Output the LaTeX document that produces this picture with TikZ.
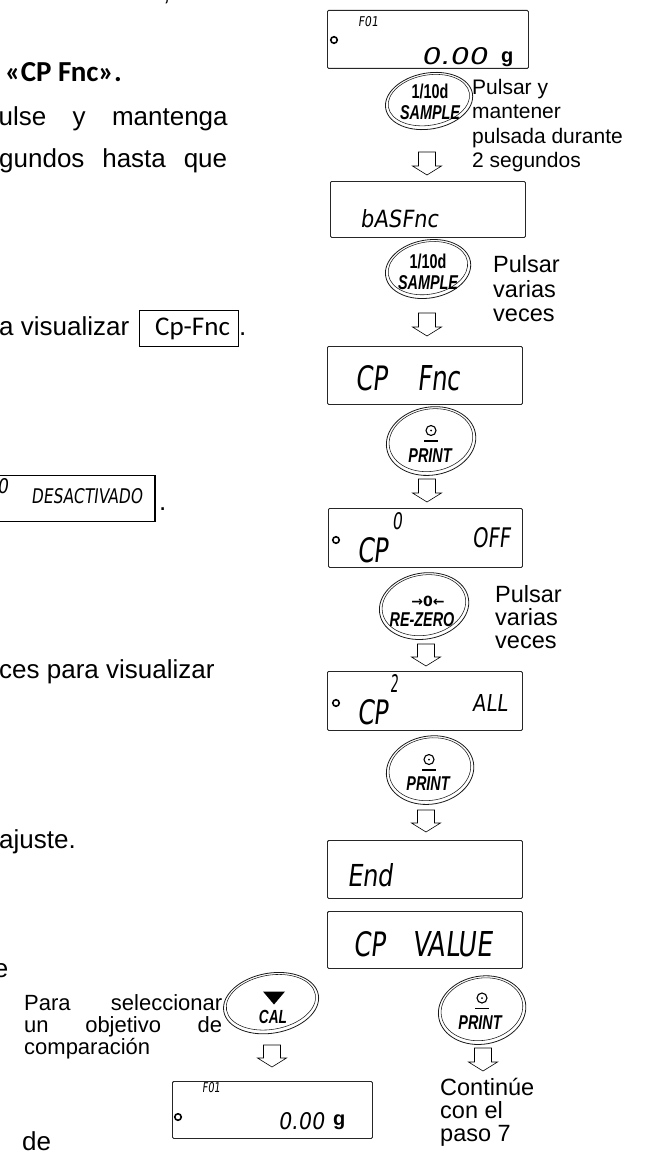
\documentclass[tikz,border=0pt]{standalone}
\usepackage{fontspec}
\usepackage{graphicx}
\setmainfont{Liberation Sans}
\newfontfamily\calib{Carlito}
\newfontfamily\lcdfont[FakeSlant=0.16]{DejaVu Sans}
\newfontfamily\btnfont[FakeStretch=0.72]{Liberation Sans}
\newfontfamily\symfont{DejaVu Sans}
\usetikzlibrary{calc}
\tikzset{
  body/.style={inner sep=0, anchor=base west, font=\fontsize{26}{30}\selectfont},
  lab/.style={inner sep=0, anchor=base west, font=\fontsize{23.5}{26}\selectfont},
  labp/.style={inner sep=0, anchor=base west, font=\fontsize{22}{24}\selectfont},
  labs/.style={inner sep=0, anchor=base west, font=\fontsize{21}{24}\selectfont},
  disp/.style={draw=black!85, line width=0.9pt, rounded corners=1.2pt, inner sep=0, anchor=north west},
  lcd/.style={inner sep=0, anchor=south west, font=\lcdfont},
  ind/.style={circle, draw, line width=1.6pt, minimum size=6.5pt, inner sep=0},
  gram/.style={inner sep=0, anchor=base west, font=\fontsize{20}{20}\selectfont\bfseries},
  btn/.style={inner sep=0, align=center, font=\btnfont\fontsize{20}{21}\selectfont\bfseries},
  ring/.style={draw=black!90, line width=0.8pt},
  ringin/.style={draw=black!90, line width=0.55pt},
  hollow/.style={draw, line width=0.6pt, fill=white, line join=miter,
    to path={let \p1=(\tikztostart), \p2=(\tikztotarget) in
      (\x1-8.5pt,\y1) -- (\x1-8.5pt,\y2+9pt) -- (\x1-14.5pt,\y2+9pt) -- (\x1,\y2)
      -- (\x1+14.5pt,\y2+9pt) -- (\x1+8.5pt,\y2+9pt) -- (\x1+8.5pt,\y1) -- cycle}},
}
\newcommand\mkring[3]{%
  \draw[ring, rotate around={10:(#1)}] (#1) ellipse [x radius=#2pt, y radius=#3pt];
  \draw[ringin, rotate around={10:(#1)}] ([yshift=0.9pt]#1) ellipse [x radius=#2pt-2.9pt, y radius=#3pt-2.9pt];}
\newcommand\mkprintsym[1]{%
  \draw[line width=1.1pt] (#1) circle [radius=5pt];
  \fill (#1) circle [radius=1pt];
  \draw[line width=1.4pt] ([xshift=-7pt,yshift=-10.5pt]#1) -- ([xshift=7pt,yshift=-10.5pt]#1);}
\begin{document}
\begin{tikzpicture}[x=1pt,y=-1pt]
\useasboundingbox (0,0) rectangle (646,1153);
\fill[white] (0,0) rectangle (646,1153);

% ---------- left text ----------
\node[body] (t0) at (163,1) {,};
\node[inner sep=0, anchor=base west, font=\calib\fontsize{29}{30}\selectfont\bfseries] (t1) at (5,82) {«CP Fnc».};
\node[body] (t2) at (-1.5,125) {\makebox[229pt][l]{ulse\hfill y\hfill mantenga}};
\node[body] (t3) at (-1,167) {\makebox[228pt][l]{gundos\hfill hasta\hfill que}};
\node[body] (t4) at (-1,335) {a visualizar};
\node[draw, line width=1.1pt, inner sep=0, anchor=north west, minimum width=99pt, minimum height=36pt,
      font=\calib\fontsize{27}{30}\selectfont] (cpf) at (139,310) {\hspace{7pt}Cp-Fnc};
\node[body] (t5) at (239,335) {.};
\node[draw, line width=1.1pt, inner sep=0, anchor=north east, minimum width=162pt, minimum height=46pt] (desbox) at (155.5,475) {};
\node[lcd] (des0) at (-3,494) {\resizebox{11pt}{15pt}{0}};
\node[lcd] (destxt) at (31,504) {\resizebox{111pt}{15pt}{DESACTIVADO}};
\node[body] (t6) at (159,510) {.};
\node[body] (t7) at (-1,678) {ces para visualizar};
\node[body] (t8) at (-1,848) {ajuste.};
\node[body, anchor=base east] (t9) at (8.5,977) {e};
\node[labp] (t10) at (24,1010) {\makebox[198pt][l]{Para\hfill seleccionar}};
\node[labp] (t11) at (24,1032) {\makebox[198pt][l]{un\hfill objetivo\hfill de}};
\node[labp] (t12) at (24,1054) {comparación};
\node[body] (t13) at (22,1150) {de};

% ---------- right labels ----------
\node[labs] (l1a) at (472,95) {Pulsar y};
\node[labs] (l1b) at (472,118) {mantener};
\node[labs] (l1c) at (472,143) {pulsada durante};
\node[labs] (l1d) at (472,167) {2 segundos};
\node[lab] (l2a) at (493,272) {Pulsar};
\node[lab] (l2b) at (493,297) {varias};
\node[lab] (l2c) at (493,321) {veces};
\node[lab] (l3a) at (495,602) {Pulsar};
\node[lab] (l3b) at (495,625) {varias};
\node[lab] (l3c) at (495,648) {veces};
\node[lab] (l4a) at (440,1095) {Continúe};
\node[lab] (l4b) at (440,1118) {con el};
\node[lab] (l4c) at (440,1141) {paso 7};

% ---------- displays ----------
\node[disp, minimum width=201pt, minimum height=58pt] (d1) at (327,10) {};
\node[ind] (d1i) at (334,40) {};
\node[lcd] (d1f) at (358,27) {\resizebox{20pt}{10pt}{F01}};
\node[lcd] (d1v) at (421,65) {\resizebox{66pt}{17pt}{0.00}};
\node[gram] (d1g) at (501,63) {g};

\node[disp, minimum width=195pt, minimum height=56pt] (d2) at (330,181) {};
\node[lcd] (d2t) at (360,228) {\resizebox{78pt}{18pt}{bASFnc}};

\node[disp, minimum width=195pt, minimum height=58pt] (d3) at (327,346) {};
\node[lcd] (d3a) at (355,391) {\resizebox{32pt}{25pt}{CP}};
\node[lcd] (d3b) at (417,391) {\resizebox{43pt}{25pt}{Fnc}};

\node[disp, minimum width=194pt, minimum height=59pt] (d4) at (328,508) {};
\node[ind] (d4i) at (336,540) {};
\node[lcd] (d4a) at (357,563) {\resizebox{31pt}{25pt}{CP}};
\node[lcd] (d4s) at (392,530) {\resizebox{10pt}{17pt}{0}};
\node[lcd] (d4b) at (472,548) {\resizebox{38pt}{20pt}{OFF}};

\node[disp, minimum width=195pt, minimum height=59pt] (d5) at (327,671) {};
\node[ind] (d5i) at (336,703) {};
\node[lcd] (d5a) at (357,725) {\resizebox{31pt}{25pt}{CP}};
\node[lcd] (d5s) at (390,693) {\resizebox{8pt}{18pt}{2}};
\node[lcd] (d5b) at (472,712) {\resizebox{35pt}{17pt}{ALL}};

\node[disp, minimum width=195pt, minimum height=58pt] (d6) at (327,840) {};
\node[lcd] (d6t) at (347,887) {\resizebox{46pt}{23pt}{End}};

\node[disp, minimum width=195pt, minimum height=57pt] (d7) at (327,911) {};
\node[lcd] (d7a) at (353,957) {\resizebox{32pt}{25pt}{CP}};
\node[lcd] (d7b) at (412,957) {\resizebox{80pt}{25pt}{VALUE}};

\node[disp, minimum width=200pt, minimum height=57pt] (d8) at (172,1081) {};
\node[ind] (d8i) at (178,1117) {};
\node[lcd] (d8f) at (202,1093) {\resizebox{18pt}{10pt}{F01}};
\node[lcd] (d8v) at (278,1130) {\resizebox{46pt}{17pt}{0.00}};
\node[gram] (d8g) at (333,1125) {g};

% ---------- buttons ----------
\coordinate (b1c) at (429,101);
\mkring{b1c}{44}{28}
\node[btn] (b1) at (430,102) {1/10d\\\itshape SAMPLE};

\coordinate (b2c) at (428,269);
\mkring{b2c}{43}{29}
\node[btn] (b2) at (428,272) {1/10d\\\itshape SAMPLE};

\coordinate (b3c) at (431,441);
\mkring{b3c}{45}{34}
\coordinate (p3s) at (431,430.5);
\mkprintsym{p3s}
\node[btn, font=\btnfont\fontsize{20}{21}\selectfont\bfseries\itshape] (b3) at (430,456) {PRINT};

\coordinate (b4c) at (424,606);
\mkring{b4c}{45}{33}
\node[inner sep=0, font=\symfont\fontsize{14}{14}\selectfont\bfseries] (b4a) at (428,601) {→0←};
\node[btn, font=\btnfont\fontsize{20}{21}\selectfont\bfseries\itshape] (b4) at (422,620) {RE-ZERO};

\coordinate (b5c) at (430,770);
\mkring{b5c}{44}{34}
\coordinate (p5s) at (429,759.5);
\mkprintsym{p5s}
\node[btn, font=\btnfont\fontsize{20}{21}\selectfont\bfseries\itshape] (b5) at (428,784) {PRINT};

\coordinate (b6c) at (482,1010);
\mkring{b6c}{44}{34}
\coordinate (p6s) at (482,998);
\mkprintsym{p6s}
\node[btn, font=\btnfont\fontsize{20}{21}\selectfont\bfseries\itshape] (b6) at (480,1023) {PRINT};

\coordinate (b7c) at (271,1003);
\mkring{b7c}{48}{30}
\coordinate (tri) at (274,998);
\fill ([xshift=-11pt,yshift=6.5pt]tri) -- ([xshift=11pt,yshift=6.5pt]tri) -- ([yshift=-6.5pt]tri) -- cycle;
\node[btn, font=\btnfont\fontsize{19}{21}\selectfont\bfseries\itshape] (b7) at (273,1017) {CAL};

% ---------- hollow arrows ----------
\coordinate (a1s) at (427,152); \coordinate (a1e) at (427,175);
\coordinate (a2s) at (427,313); \coordinate (a2e) at (427,336);
\coordinate (a3s) at (427,479); \coordinate (a3e) at (427,502);
\coordinate (a4s) at (426,644); \coordinate (a4e) at (426,666);
\coordinate (a5s) at (426,810); \coordinate (a5e) at (426,832);
\coordinate (a6s) at (483,1048); \coordinate (a6e) at (483,1071);
\coordinate (a7s) at (272,1045); \coordinate (a7e) at (272,1067);
\draw[hollow] (a1s) to (a1e);
\draw[hollow] (a2s) to (a2e);
\draw[hollow] (a3s) to (a3e);
\draw[hollow] (a4s) to (a4e);
\draw[hollow] (a5s) to (a5e);
\draw[hollow] (a6s) to (a6e);
\draw[hollow] (a7s) to (a7e);
\end{tikzpicture}
\end{document}
